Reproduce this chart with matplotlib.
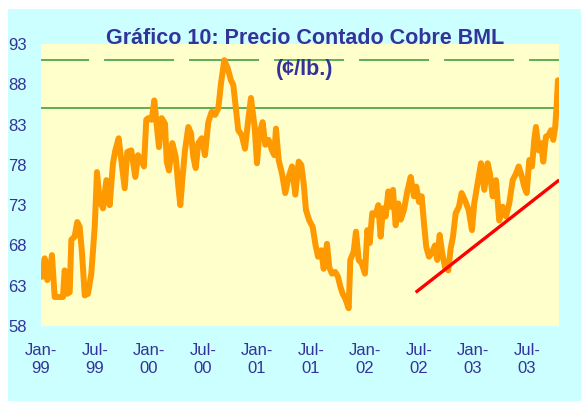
import matplotlib
matplotlib.use("Agg")
import matplotlib.pyplot as plt
from matplotlib.patches import Rectangle

# Months since Jan-99 and copper spot price (cents/lb)
months = [
    0.11, 0.41, 0.70, 0.97, 1.22, 1.52, 1.89, 2.44, 2.63, 2.92, 3.19, 3.37, 3.74, 4.03, 4.30,
    4.56, 4.86, 5.22, 5.59, 5.97, 6.22, 6.52, 6.89, 7.26, 7.63, 8.00, 8.26, 8.63, 8.92, 9.30,
    9.59, 10.03, 10.48, 10.78, 11.14, 11.44, 11.70,
    11.92, 12.30, 12.59, 12.86, 13.11, 13.41, 13.78, 13.97, 14.22, 14.59, 14.97, 15.26, 15.48,
    15.70, 16.00, 16.37, 16.67, 16.92, 17.19, 17.48, 17.86, 18.22, 18.59, 18.97, 19.33, 19.70,
    20.00, 20.37, 20.74, 21.11, 21.37, 21.63, 21.92, 22.30, 22.67, 23.03, 23.33,
    23.74, 24.00, 24.26, 24.63, 24.92, 25.30, 25.67, 25.92, 26.11, 26.41, 26.78, 27.14, 27.52,
    27.89, 28.26, 28.63, 28.92, 29.19, 29.44, 29.81, 30.19, 30.48, 30.78, 31.14, 31.41, 31.78,
    32.03, 32.33, 32.70, 33.00, 33.26, 33.52, 33.81, 34.19, 34.37, 34.74, 35.00, 35.30,
    35.63, 36.00, 36.26, 36.52, 36.81, 37.19, 37.48, 37.74, 38.00, 38.30, 38.59, 38.86, 39.11,
    39.41, 39.70, 39.97, 40.33, 40.70, 41.08, 41.44, 41.70, 42.00, 42.30, 42.56, 42.81, 43.11,
    43.48, 43.78, 44.03, 44.30, 44.59, 44.89, 45.26, 45.52, 45.78, 46.08, 46.44, 46.74, 47.11,
    47.52, 47.89, 48.14, 48.52, 48.89, 49.26, 49.63, 49.89, 50.19, 50.56, 50.92, 51.30, 51.67,
    52.03, 52.41, 52.78, 53.08, 53.44, 53.70, 53.97, 54.26, 54.56, 54.81, 55.00, 55.30, 55.56,
    55.81, 56.11, 56.41, 56.67, 56.92, 57.14, 57.30, 57.44,
]
price = [
    64.1, 66.4, 63.7, 64.9, 66.8, 61.6, 61.6, 61.6, 64.9, 62.0, 62.2, 68.7, 69.1, 70.9, 70.3,
    67.0, 61.8, 62.0, 64.5, 70.3, 77.1, 73.6, 72.6, 76.1, 73.0, 78.2, 79.8, 81.3, 78.6, 75.1,
    79.6, 79.8, 76.5, 79.2, 78.6, 77.8, 83.6,
    83.8, 83.6, 86.0, 82.9, 80.2, 83.8, 83.1, 78.4, 77.3, 80.7, 79.0, 75.3, 73.0,
    76.1, 79.8, 82.7, 81.9, 79.0, 77.6, 80.7, 81.3, 79.2, 83.3, 84.6, 84.2, 85.0,
    88.1, 91.0, 90.0, 88.5, 87.9, 85.2, 82.3, 81.7, 80.0, 83.6, 86.3,
    82.7, 78.2, 81.9, 83.3, 80.5, 81.1, 79.8, 79.2, 82.5, 78.6, 76.9, 74.5, 76.5,
    77.8, 74.3, 78.4, 78.0, 75.7, 72.4, 71.1, 70.3, 68.2, 66.6, 67.4, 65.1, 68.2,
    65.3, 64.5, 64.7, 64.1, 62.9, 62.0, 61.4, 60.2, 66.2, 67.2, 69.7, 66.2,
    65.8, 64.5, 69.9, 68.3, 72.0, 71.8, 73.0, 69.1, 72.6, 71.6, 74.7, 72.8, 74.9,
    70.5, 73.2, 71.2, 72.4, 74.7, 76.5, 74.1, 75.3, 73.4, 74.1, 70.7, 67.8, 66.6,
    67.2, 68.0, 66.2, 69.3, 67.0, 65.3, 64.9, 67.6, 69.1, 72.0, 72.8, 74.5, 73.6,
    72.4, 69.9, 73.2, 75.7, 78.2, 74.9, 78.2, 76.9, 74.1, 76.1, 71.1, 72.8, 71.6,
    73.2, 76.1, 76.9, 77.8, 76.5, 75.3, 74.5, 78.6, 77.8, 81.1, 82.7, 79.8, 80.7,
    78.4, 81.5, 81.7, 82.3, 81.1, 82.7, 85.4, 88.5,
]

trend_x = [41.78, 57.44]
trend_y = [62.3, 76.0]
level_dashed = 91
level_solid = 85

tick_months = [0, 6, 12, 18, 24, 30, 36, 42, 48, 54]
tick_labels = ["Jan-\n99", "Jul-\n99", "Jan-\n00", "Jul-\n00", "Jan-\n01",
               "Jul-\n01", "Jan-\n02", "Jul-\n02", "Jan-\n03", "Jul-\n03"]
y_ticks = [58, 63, 68, 73, 78, 83, 88, 93]

navy = "#333399"
plt.rcParams["font.family"] = ["Liberation Sans", "DejaVu Sans"]
plt.rcParams["lines.scale_dashes"] = False

fig = plt.figure(figsize=(5.81, 4.01), dpi=100, facecolor="white")
fig.add_artist(Rectangle((8 / 581, 0), 1 - 8 / 581, 392 / 401,
                         transform=fig.transFigure, facecolor="#CCFFFF",
                         edgecolor="none", zorder=-10))

ax = fig.add_axes([41 / 581, 75 / 401, 518 / 581, 282 / 401])
ax.set_facecolor("#FFFFCC")
for s in ax.spines.values():
    s.set_visible(False)

ax.axhline(level_dashed, color="#339933", lw=1.1, linestyle=(15.8, (50.4, 10.8)))
ax.axhline(level_solid, color="#339933", lw=1.1)
ax.plot(months, price, color="#FF9900", lw=4.3, solid_joinstyle="round",
        solid_capstyle="round")
ax.plot(trend_x, trend_y, color="#FF0000", lw=2.4)

ax.set_xlim(0, 57.56)
ax.set_ylim(58, 93)
ax.set_xticks(tick_months)
ax.set_xticklabels(tick_labels, linespacing=1.3)
ax.set_yticks(y_ticks)
ax.tick_params(axis="both", length=0, labelsize=12, labelcolor=navy)
ax.tick_params(axis="x", pad=12)
ax.tick_params(axis="y", pad=10)

fig.text(305 / 581, 1 - 39 / 401, "Gráfico 10: Precio Contado Cobre BML",
         ha="center", va="center", fontsize=15.5, fontweight="bold", color=navy)
fig.text(305 / 581, 1 - 70 / 401, "(¢/lb.)",
         ha="center", va="center", fontsize=15.5, fontweight="bold", color=navy)

fig.savefig("out.png", dpi=100, facecolor=fig.get_facecolor())
